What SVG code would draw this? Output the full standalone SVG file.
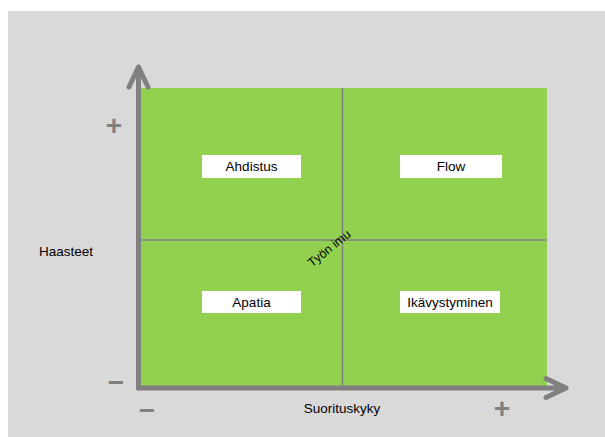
<svg xmlns="http://www.w3.org/2000/svg" width="605" height="437" viewBox="0 0 605 437">
<style>
.lbl{font-family:"Liberation Sans",Arial,sans-serif;font-size:13.5px;fill:#000;text-anchor:middle}
.box{fill:#fff}
.ax{stroke:#808080;stroke-width:5;fill:none;stroke-linecap:round;stroke-linejoin:round}
.grid{stroke:#808080;stroke-width:1.5}
.sign{font-family:"Liberation Sans",Arial,sans-serif;font-size:28px;font-weight:bold;fill:#808080;text-anchor:middle}
.tilt{font-family:"Liberation Sans",Arial,sans-serif;font-size:12.5px;fill:#000;text-anchor:middle}
</style>
<rect x="8" y="11" width="597" height="426" fill="#d9d9d9"/>
<rect x="141" y="88" width="406" height="298" fill="#92d050"/>
<g id="connectors">
<line class="grid" x1="342.5" y1="88" x2="342.5" y2="386"/>
<line class="grid" x1="141" y1="240" x2="547" y2="240"/>
<path class="ax" d="M138.5,388 V67 M129,87 L138.5,67 L148,87"/>
<path class="ax" d="M138.5,388 H566 M546,378.5 L566,388 L546,397.5"/>
</g>
<g id="ahdistus"><rect class="box" x="202" y="155" width="99" height="23"/><text class="lbl" x="251.5" y="171">Ahdistus</text></g>
<g id="flow"><rect class="box" x="400" y="155" width="102" height="23"/><text class="lbl" x="451" y="171">Flow</text></g>
<g id="apatia"><rect class="box" x="202" y="291" width="99" height="22"/><text class="lbl" x="251.5" y="306.5">Apatia</text></g>
<g id="ikavystyminen"><rect class="box" x="400" y="291" width="100" height="22"/><text class="lbl" x="450" y="306.5">Ikävystyminen</text></g>
<g id="tyon-imu"><text class="tilt" x="329" y="252.5" transform="rotate(-39 329 248)">Työn imu</text></g>
<g id="axis-labels">
<text class="lbl" x="66" y="256">Haasteet</text>
<text class="lbl" x="342" y="413">Suorituskyky</text>
<text class="sign" x="114" y="135">+</text>
<text class="sign" x="116" y="392">−</text>
<text class="sign" x="147" y="420">−</text>
<text class="sign" x="502" y="418">+</text>
</g>
</svg>
